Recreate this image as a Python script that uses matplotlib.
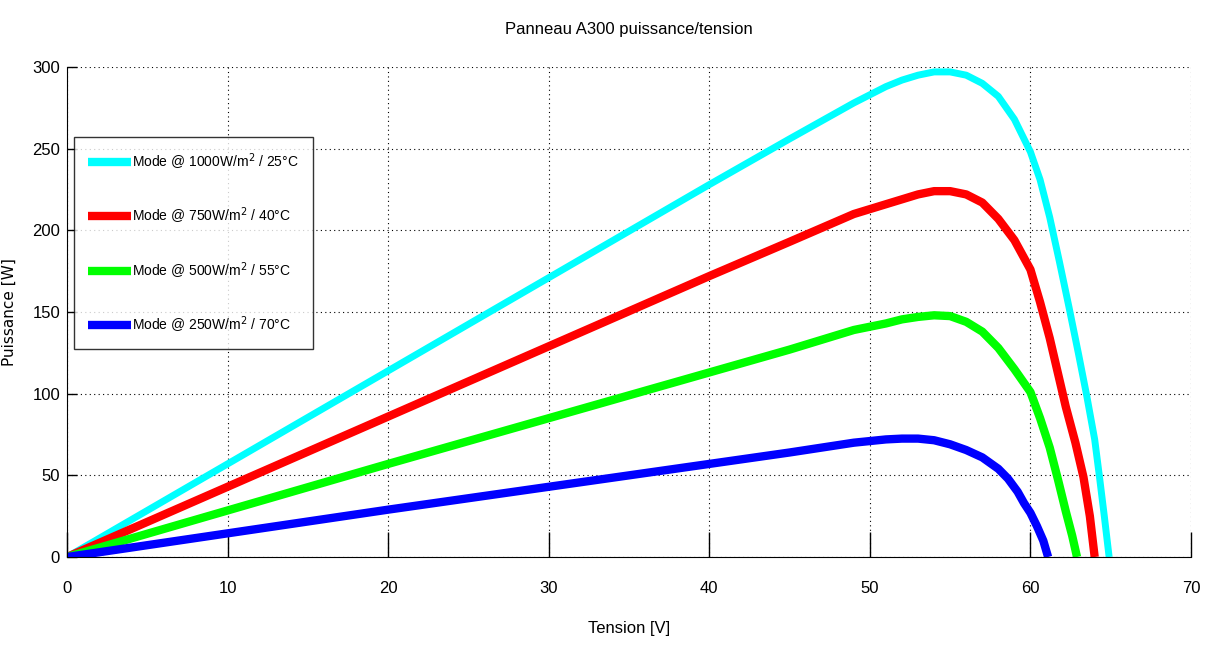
import matplotlib
matplotlib.use("Agg")
import matplotlib.pyplot as plt

# tension (V) / puissance (W) pour chaque condition
v_1000 = [0, 10, 20, 30, 40, 45, 49, 51, 52, 53, 54, 55, 56, 57, 58, 59, 60, 60.6,
          61.2, 61.8, 62.4, 63, 63.5, 64, 64.3, 64.6, 64.9]
p_1000 = [0, 57, 114, 171, 228, 256, 278, 288, 292, 295, 297, 297, 295, 290, 282, 268, 248, 231,
          208, 181, 153, 124, 99, 72, 49, 25, 0]

v_750 = [0, 10, 20, 30, 40, 45, 49, 51, 52, 53, 54, 55, 56, 57, 58, 59, 60, 60.6,
         61.2, 61.7, 62.2, 62.8, 63.3, 63.7, 64.0]
p_750 = [0, 43, 86, 129, 172, 193, 210, 216, 219, 222, 224, 224, 222, 217, 207, 194, 176, 156,
         134, 113, 92, 70, 49, 25, 0]

v_500 = [0, 10, 20, 30, 40, 45, 49, 51, 52, 53, 54, 55, 56, 57, 58, 59, 60, 60.6,
         61.2, 61.7, 62.2, 62.6, 62.9]
p_500 = [0, 28.5, 57, 85, 113, 127, 139, 143, 145.5, 147, 148, 147.5, 144, 138, 128, 115, 101, 85,
         67, 48, 28, 13, 0]

v_250 = [0, 10, 20, 30, 40, 45, 49, 50, 51, 52, 53, 54, 55, 56, 57, 58, 58.6, 59.2,
         59.6, 60, 60.4, 60.8, 61.1]
p_250 = [0, 14.5, 29, 43, 57, 64, 70, 71, 72, 72.5, 72.5, 71.5, 69, 65.5, 61, 54, 48, 40,
         33, 27, 19, 10, 0]

labels = [
    "Mode @ 1000W/m$^2$ / 25°C",
    "Mode @ 750W/m$^2$ / 40°C",
    "Mode @ 500W/m$^2$ / 55°C",
    "Mode @ 250W/m$^2$ / 70°C",
]
colors = ["#00ffff", "#ff0000", "#00ff00", "#0000ff"]

narrow = ["Liberation Sans", "DejaVu Sans"]

fig = plt.figure(figsize=(12.05, 6.45), dpi=100)
ax = fig.add_axes([0.0556, 0.1364, 0.9328, 0.7597])

series = [(v_1000, p_1000), (v_750, p_750), (v_500, p_500), (v_250, p_250)]
widths = [5, 6, 6, 6]
for (v, p), c, lab, lw in zip(series, colors, labels, widths):
    ax.plot(v, p, color=c, lw=lw, label=lab, solid_capstyle="butt", solid_joinstyle="round")

ax.set_xlim(0, 70)
ax.set_ylim(0, 300)
ax.set_xticks(range(0, 71, 10))
ax.set_yticks(range(0, 301, 50))
ax.grid(True, color="black", linestyle=(0, (1, 3)), linewidth=0.8)
ax.spines["top"].set_visible(False)
ax.spines["right"].set_visible(False)
ax.tick_params(axis="x", direction="in", length=18, width=1, pad=17)
ax.tick_params(axis="y", direction="in", length=7, width=1, pad=5)
for t in ax.get_xticklabels() + ax.get_yticklabels():
    t.set_family(narrow)
    t.set_fontsize(12)

ax.set_title("Panneau A300 puissance/tension", family=narrow, fontsize=12, pad=24)
ax.set_xlabel("Tension [V]", family=narrow, fontsize=12, labelpad=18)
ax.set_ylabel("Puissance [W]", family="DejaVu Sans", fontsize=11)
ax.yaxis.set_label_coords(-0.045, 0.5)

leg = ax.legend(loc="upper left", bbox_to_anchor=(0.006, 0.857), borderaxespad=0,
                frameon=True, fancybox=False, edgecolor="black", handlelength=3.1,
                handletextpad=0.1, labelspacing=2.45, borderpad=1.0,
                prop={"family": narrow, "size": 10})
leg.get_frame().set_linewidth(1)
for h in leg.get_lines():
    h.set_linewidth(6)

fig.savefig("out.png", dpi=100)
